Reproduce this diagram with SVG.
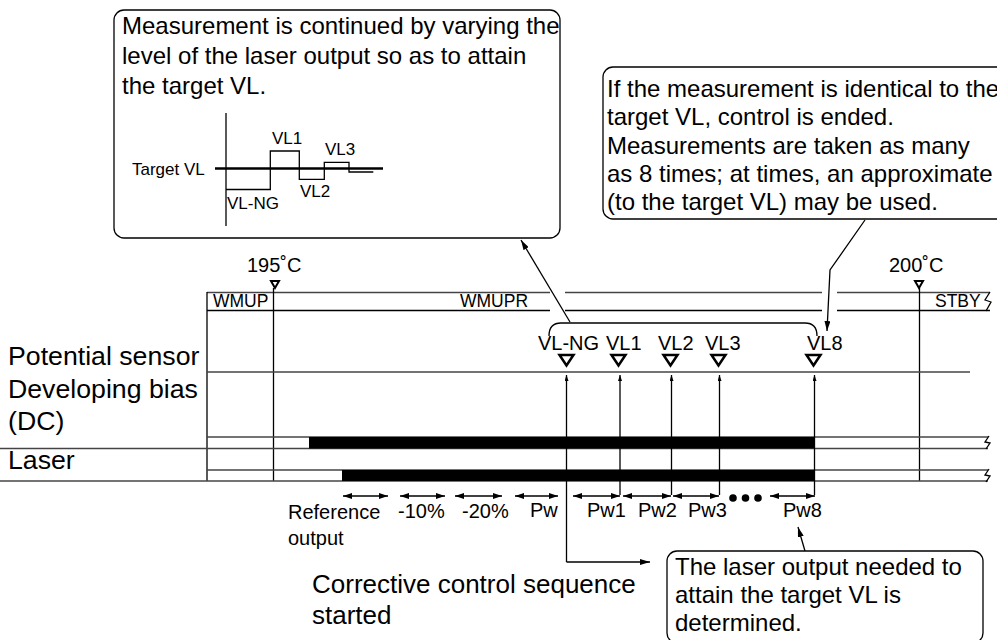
<svg xmlns="http://www.w3.org/2000/svg" width="997" height="640" viewBox="0 0 997 640">
<style>
text{font-family:"Liberation Sans",Arial,sans-serif;fill:#000}
.t24{font-size:24px}
.t26{font-size:26px}
.t27{font-size:26.7px}
.t20{font-size:20px}
.t18{font-size:17.5px}
.t17{font-size:17px}
.ln{stroke:#000;stroke-width:1.3;fill:none}
.g{stroke:#444;stroke-width:1.7;fill:none}
.tri{fill:#fff;stroke:#000;stroke-width:2.5;stroke-linejoin:miter}
.tri2{fill:#fff;stroke:#000;stroke-width:2;stroke-linejoin:miter}
.box{fill:#fff;stroke:#000;stroke-width:1.3}
.bar{fill:#000}
</style>
<defs>
<marker id="ah" viewBox="0 0 10 6" refX="10" refY="3" markerWidth="10" markerHeight="6" orient="auto-start-reverse" markerUnits="userSpaceOnUse"><path d="M0,0 L10,3 L0,6 z" fill="#000"/></marker>
<marker id="ahs" viewBox="0 0 6 4" refX="6" refY="2" markerWidth="6" markerHeight="4" orient="auto-start-reverse" markerUnits="userSpaceOnUse"><path d="M0,0 L6,2 L0,4 z" fill="#000"/></marker>
<marker id="pw" viewBox="0 0 9 6" refX="9" refY="3" markerWidth="9" markerHeight="6" orient="auto-start-reverse" markerUnits="userSpaceOnUse"><path d="M0,0 L9,3 L0,6 z" fill="#000"/></marker>
</defs>

<g id="row-labels">
<text class="t27" x="8" y="365">Potential sensor</text>
<text class="t27" x="8" y="398">Developing bias</text>
<text class="t27" x="8" y="430">(DC)</text>
<text class="t27" x="8" y="469">Laser</text>
</g>

<g id="timeline">
<path class="g" d="M207,292.5 H550 M565,292.5 H822 M837,292.5 H990"/>
<path class="ln" d="M207,310.5 H550 M565,310.5 H822 M837,310.5 H990"/>
<path class="ln" d="M990,292 L985,300 L991,302 L986,311"/>
<path class="ln" d="M207,292 V481"/>
<path class="ln" d="M273.5,288 V481"/>
<path class="ln" d="M919.5,288 V481"/>
<polygon class="tri2" points="271,281 279,281 275,288"/>
<polygon class="tri2" points="915,281 923,281 919,288"/>
<text class="t20" x="247" y="272">195˚C</text>
<text class="t20" x="889" y="272">200˚C</text>
<text class="t18" x="213" y="307">WMUP</text>
<text class="t18" x="460" y="307">WMUPR</text>
<text class="t18" x="935" y="307">STBY</text>
</g>

<g id="potential-sensor">
<path class="g" d="M207,372 H970"/>
<text class="t20" x="538" y="350">VL-NG</text>
<text class="t20" x="606" y="350">VL1</text>
<text class="t20" x="658" y="350">VL2</text>
<text class="t20" x="705" y="350">VL3</text>
<text class="t20" x="807" y="350">VL8</text>
<polygon class="tri" points="559.5,355 573.5,355 566.5,365.5"/>
<polygon class="tri" points="611.5,355 625.5,355 618.5,365.5"/>
<polygon class="tri" points="663.5,355 677.5,355 670.5,365.5"/>
<polygon class="tri" points="711.5,355 725.5,355 718.5,365.5"/>
<polygon class="tri" points="806.5,355 820.5,355 813.5,365.5"/>
<path class="ln" d="M549,336 Q549,323 561,323 L805,323 Q817,323 817,336"/>
</g>

<g id="developing-bias">
<path class="g" d="M207,437 H988"/>
<path class="g" d="M0,448.5 H988"/>
<rect class="bar" x="309" y="437" width="506" height="11.5"/>
<path class="ln" d="M989,436 L985,442 L990,443 L986,449"/>
</g>

<g id="laser">
<path class="g" d="M207,470 H988"/>
<path class="g" d="M0,481 H988"/>
<rect class="bar" x="342" y="470" width="473" height="11"/>
<path class="ln" d="M989,469 L985,475 L990,476 L986,482"/>
</g>

<g id="connectors">
<path class="ln" d="M566.5,562 V375" marker-end="url(#ahs)"/>
<path class="ln" d="M566.5,562 H650" marker-end="url(#ah)"/>
<path class="ln" d="M620,495 V375" marker-end="url(#ahs)"/>
<path class="ln" d="M671.5,495 V375" marker-end="url(#ahs)"/>
<path class="ln" d="M719.5,495 V375" marker-end="url(#ahs)"/>
<path class="ln" d="M814.5,495 V375" marker-end="url(#ahs)"/>
<path class="ln" d="M570,322 L521,240" marker-end="url(#ah)"/>
<path class="ln" d="M865,220 L830,270 L827,331" marker-end="url(#ah)"/>
<path class="ln" d="M805,551 L798,527" marker-end="url(#ah)"/>
</g>

<g id="pw-arrows">
<path class="ln" d="M343,496 H388" marker-start="url(#pw)" marker-end="url(#pw)"/>
<path class="ln" d="M400,496 H445" marker-start="url(#pw)" marker-end="url(#pw)"/>
<path class="ln" d="M455,496 H502" marker-start="url(#pw)" marker-end="url(#pw)"/>
<path class="ln" d="M515,496 H558" marker-start="url(#pw)" marker-end="url(#pw)"/>
<path class="ln" d="M573,496 H620" marker-start="url(#pw)" marker-end="url(#pw)"/>
<path class="ln" d="M623,496 H671" marker-start="url(#pw)" marker-end="url(#pw)"/>
<path class="ln" d="M673,496 H719" marker-start="url(#pw)" marker-end="url(#pw)"/>
<path class="ln" d="M770,496 H815" marker-start="url(#pw)" marker-end="url(#pw)"/>
<circle cx="733" cy="498" r="3.8"/>
<circle cx="745.5" cy="498" r="3.8"/>
<circle cx="758" cy="498" r="3.8"/>
<text class="t20" x="288" y="519">Reference</text>
<text class="t20" x="288" y="545">output</text>
<text class="t20" x="398" y="518">-10%</text>
<text class="t20" x="462" y="518">-20%</text>
<text class="t20" x="530" y="516.5">Pw</text>
<text class="t20" x="587" y="516.5">Pw1</text>
<text class="t20" x="638" y="516.5">Pw2</text>
<text class="t20" x="688" y="516.5">Pw3</text>
<text class="t20" x="783" y="516.5">Pw8</text>
</g>

<g id="corrective-label">
<text class="t26" x="312" y="593">Corrective control sequence</text>
<text class="t26" x="312" y="624">started</text>
</g>

<g id="callout-measurement">
<rect class="box" x="114" y="10" width="446" height="228" rx="10"/>
<text class="t24" x="122" y="34">Measurement is continued by varying the</text>
<text class="t24" x="122" y="64">level of the laser output so as to attain</text>
<text class="t24" x="122" y="94">the target VL.</text>
<path class="ln" d="M226,113 V226"/>
<path d="M215,168.5 H383" stroke="#000" stroke-width="2.6" fill="none"/>
<path class="ln" d="M226,189.5 H270.3 V151 H299.3 V179.3 H324.3 V162.3 H349 V172 H373.3"/>
<text class="t17" x="132" y="174.5">Target VL</text>
<text class="t17" x="272" y="144">VL1</text>
<text class="t17" x="325" y="155">VL3</text>
<text class="t17" x="300" y="197">VL2</text>
<text class="t17" x="227" y="208.5">VL-NG</text>
</g>

<g id="callout-identical">
<rect class="box" x="603" y="67" width="410" height="152" rx="10"/>
<text class="t24" x="607" y="97">If the measurement is identical to the</text>
<text class="t24" x="607" y="125.3">target VL, control is ended.</text>
<text class="t24" x="607" y="153.6">Measurements are taken as many</text>
<text class="t24" x="607" y="182">as 8 times; at times, an approximate</text>
<text class="t24" x="607" y="210">(to the target VL) may be used.</text>
</g>

<g id="callout-determined">
<rect class="box" x="667" y="551" width="316" height="92" rx="10"/>
<text class="t24" x="675" y="575">The laser output needed to</text>
<text class="t24" x="675" y="603">attain the target VL is</text>
<text class="t24" x="675" y="631">determined.</text>
</g>
</svg>
